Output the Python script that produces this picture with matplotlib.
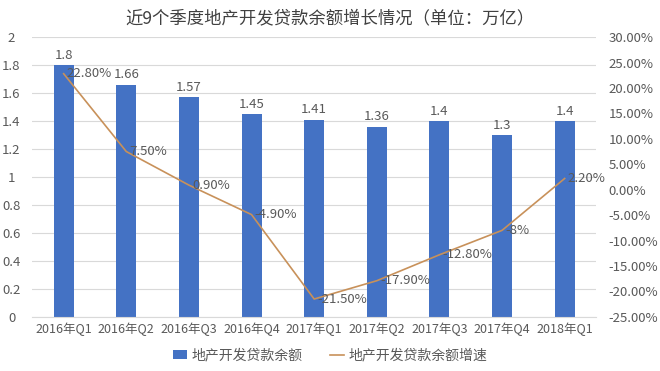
import matplotlib.pyplot as plt
import numpy as np

plt.rcParams['font.family'] = ['Noto Sans CJK SC', 'DejaVu Sans']

quarters = ['2016年Q1', '2016年Q2', '2016年Q3', '2016年Q4', '2017年Q1',
            '2017年Q2', '2017年Q3', '2017年Q4', '2018年Q1']
balance = [1.8, 1.66, 1.57, 1.45, 1.41, 1.36, 1.4, 1.3, 1.4]
growth = [22.8, 7.5, 0.9, -4.9, -21.5, -17.9, -12.8, -8, 2.2]
growth_labels = ['22.80%', '7.50%', '0.90%', '-4.90%', '-21.50%',
                 '-17.90%', '-12.80%', '-8%', '2.20%']

grey = '#595959'
fig = plt.figure(figsize=(6.6, 3.71), dpi=100)
ax = fig.add_axes([0.049, 0.146, 0.854, 0.754])
x = np.arange(len(quarters))

ax.bar(x, balance, width=0.32, color='#4472C4', zorder=2, label='地产开发贷款余额')
for xi, v in zip(x, balance):
    ax.text(xi, v + 0.025, f'{v:g}', ha='center', va='bottom', fontsize=9.5, color=grey)

ax.set_xlim(-0.5, len(quarters) - 0.5)
ax.set_ylim(0, 2)
ax.set_yticks(np.arange(0, 2.01, 0.2))
ax.set_yticklabels(['0', '0.2', '0.4', '0.6', '0.8', '1', '1.2', '1.4', '1.6', '1.8', '2'],
                   ha='center')
ax.grid(axis='y', color='#d9d9d9', linewidth=0.8, zorder=0)
ax.set_xticks(x)
ax.set_xticklabels(quarters, fontsize=9)
for s in ax.spines.values():
    s.set_visible(False)
ax.spines['bottom'].set_visible(True)
ax.spines['bottom'].set_color('#d9d9d9')
ax.tick_params(length=0, colors=grey, labelsize=9.5)
ax.tick_params(axis='x', labelsize=9, pad=4)
ax.tick_params(axis='y', pad=15)

ax2 = ax.twinx()
ax2.plot(x, growth, color='#C8915A', linewidth=1.2, zorder=3, label='地产开发贷款余额增速')
for xi, v, lab in zip(x, growth, growth_labels):
    ax2.text(xi + 0.05, v, lab, ha='left', va='center', fontsize=9.5, color=grey)
ax2.set_ylim(-25, 30)
ax2.set_yticks(np.arange(-25, 30.1, 5))
ax2.set_yticklabels([f'{v:.2f}%' for v in np.arange(-25, 30.1, 5)])
for s in ax2.spines.values():
    s.set_visible(False)
ax2.tick_params(length=0, colors=grey, labelsize=9.5, pad=9)

fig.suptitle('近9个季度地产开发贷款余额增长情况（单位：万亿）', y=0.975,
             fontsize=12.5, color='#404040', fontweight='medium')

h1, l1 = ax.get_legend_handles_labels()
h2, l2 = ax2.get_legend_handles_labels()
fig.legend(h1 + h2, l1 + l2, loc='lower center', bbox_to_anchor=(0.5, -0.01),
           ncol=2, frameon=False, fontsize=10, labelcolor=grey,
           handlelength=1.0, handleheight=0.6, columnspacing=2.0, handletextpad=0.3)

fig.savefig('out.png', dpi=100)
